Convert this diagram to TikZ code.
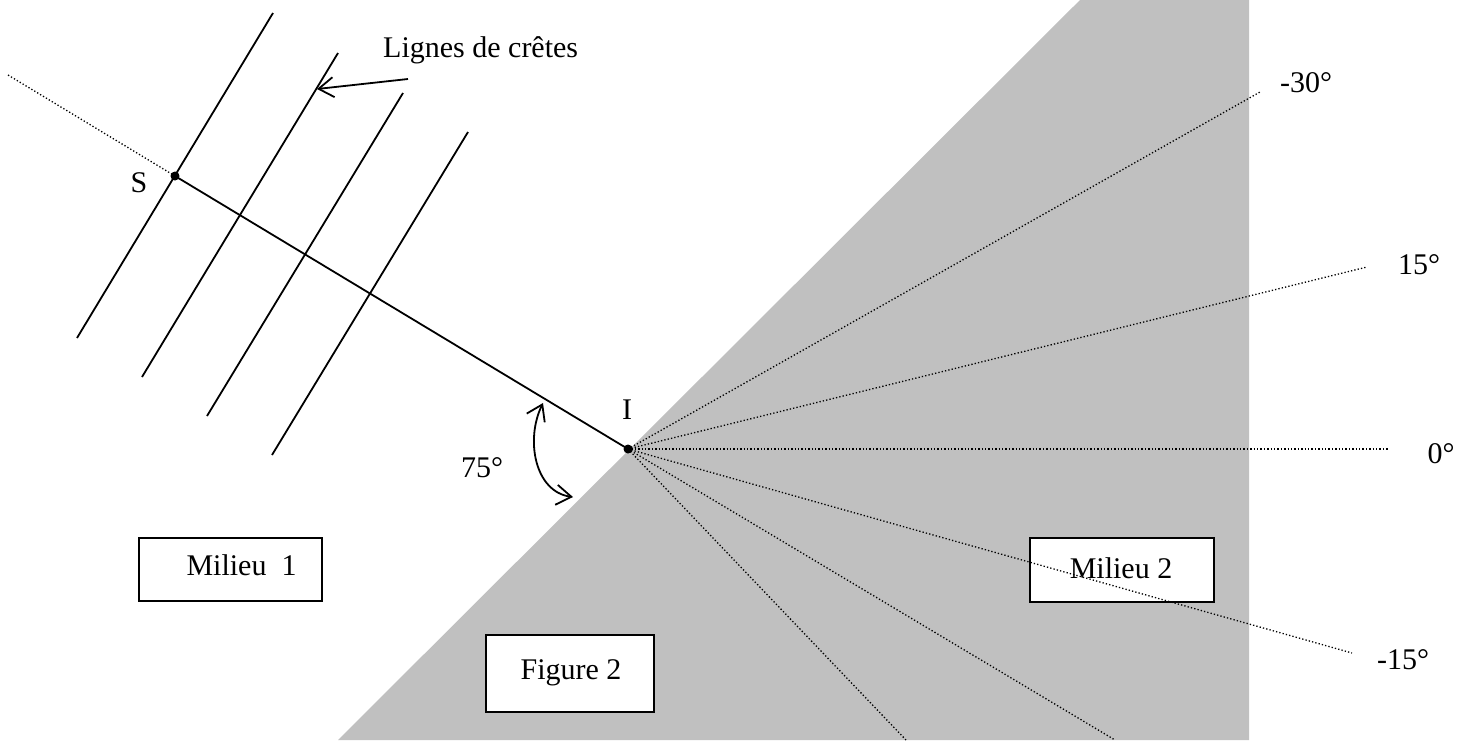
\documentclass[tikz,border=0pt]{standalone}
\usepackage{fontspec}
\setmainfont{Liberation Serif}
\usetikzlibrary{arrows.meta}
\definecolor{medgray}{RGB}{192,192,192}
\tikzset{mybarb/.tip={Straight Barb[length=15pt,width=20pt]}}
\begin{document}
\begin{tikzpicture}[x=1pt,y=-1pt,
  font=\fontsize{30}{36}\selectfont,
  ray/.style={line width=1.3pt, dash pattern=on 1.3pt off 2.1pt},
  solidline/.style={line width=1.8pt},
  box/.style={draw, line width=1.8pt, fill=white, inner sep=0pt},
  lbl/.style={inner sep=0pt}]
\useasboundingbox (0,0) rectangle (1459,740);
% medium 2
\fill[medgray] (338,740) -- (1080,0) -- (1249,0) -- (1249,740) -- cycle;
% points
\coordinate (I) at (628,449);
\coordinate (S) at (175,176);
\coordinate (Sfar) at (8,75);
% boxes (drawn under the rays)
\node[box, minimum width=183pt, minimum height=63pt] (m1) at (230.5,569.5) {};
\node[lbl] (m1t) at (241.5,565) {Milieu\ \ 1};
\node[box, minimum width=184pt, minimum height=64pt] (m2) at (1122,570) {};
\node[lbl] (m2t) at (1121,568) {Milieu 2};
\node[box, minimum width=168pt, minimum height=77pt] (f2) at (570,673.5) {};
\node[lbl] (f2t) at (571,673) {Figure 2};
% refracted rays
\coordinate (r30) at (1260,92);
\coordinate (r15) at (1367,267);
\coordinate (r0) at (1388,449);
\coordinate (rm15) at (1352,653);
\coordinate (ra) at (906,740);
\coordinate (rb) at (1115,740);
\foreach \r in {r30,r15,r0,rm15,ra,rb} \draw[ray] (I) -- (\r);
% incident ray
\draw[ray] (S) -- (Sfar);
\draw[solidline] (S) -- (I);
% crest lines
\coordinate (c1t) at (273,13);  \coordinate (c1b) at (77,338);
\coordinate (c2t) at (338,53);  \coordinate (c2b) at (142,377);
\coordinate (c3t) at (403,93);  \coordinate (c3b) at (207,416);
\coordinate (c4t) at (468,132); \coordinate (c4b) at (272,455);
\foreach \k in {1,2,3,4} \draw[solidline] (c\k t) -- (c\k b);
% label arrow
\node[lbl, anchor=west] (lig) at (383,50) {Lignes de crêtes};
\coordinate (ltail) at (408,79);
\coordinate (ltip) at (317,89);
\draw[solidline, -{mybarb}] (ltail) -- (ltip);
% angle arrow
\coordinate (a1) at (543,403);
\coordinate (a2) at (573,497);
\draw[solidline, {mybarb}-{mybarb}] (a1) .. controls (525,440) and (535,492) .. (a2);
\node[lbl] (ang) at (482,468) {75°};
% dots
\fill (S) circle (4.5pt);
\fill (I) circle (4.5pt);
% labels
\node[lbl] (Sl) at (139,183) {S};
\node[lbl] (Il) at (627,410) {I};
\node[lbl] (l30) at (1306,83) {-30°};
\node[lbl] (l15) at (1419,265) {15°};
\node[lbl] (l0) at (1441,454) {0°};
\node[lbl] (lm15) at (1403,660) {-15°};
\end{tikzpicture}
\end{document}
